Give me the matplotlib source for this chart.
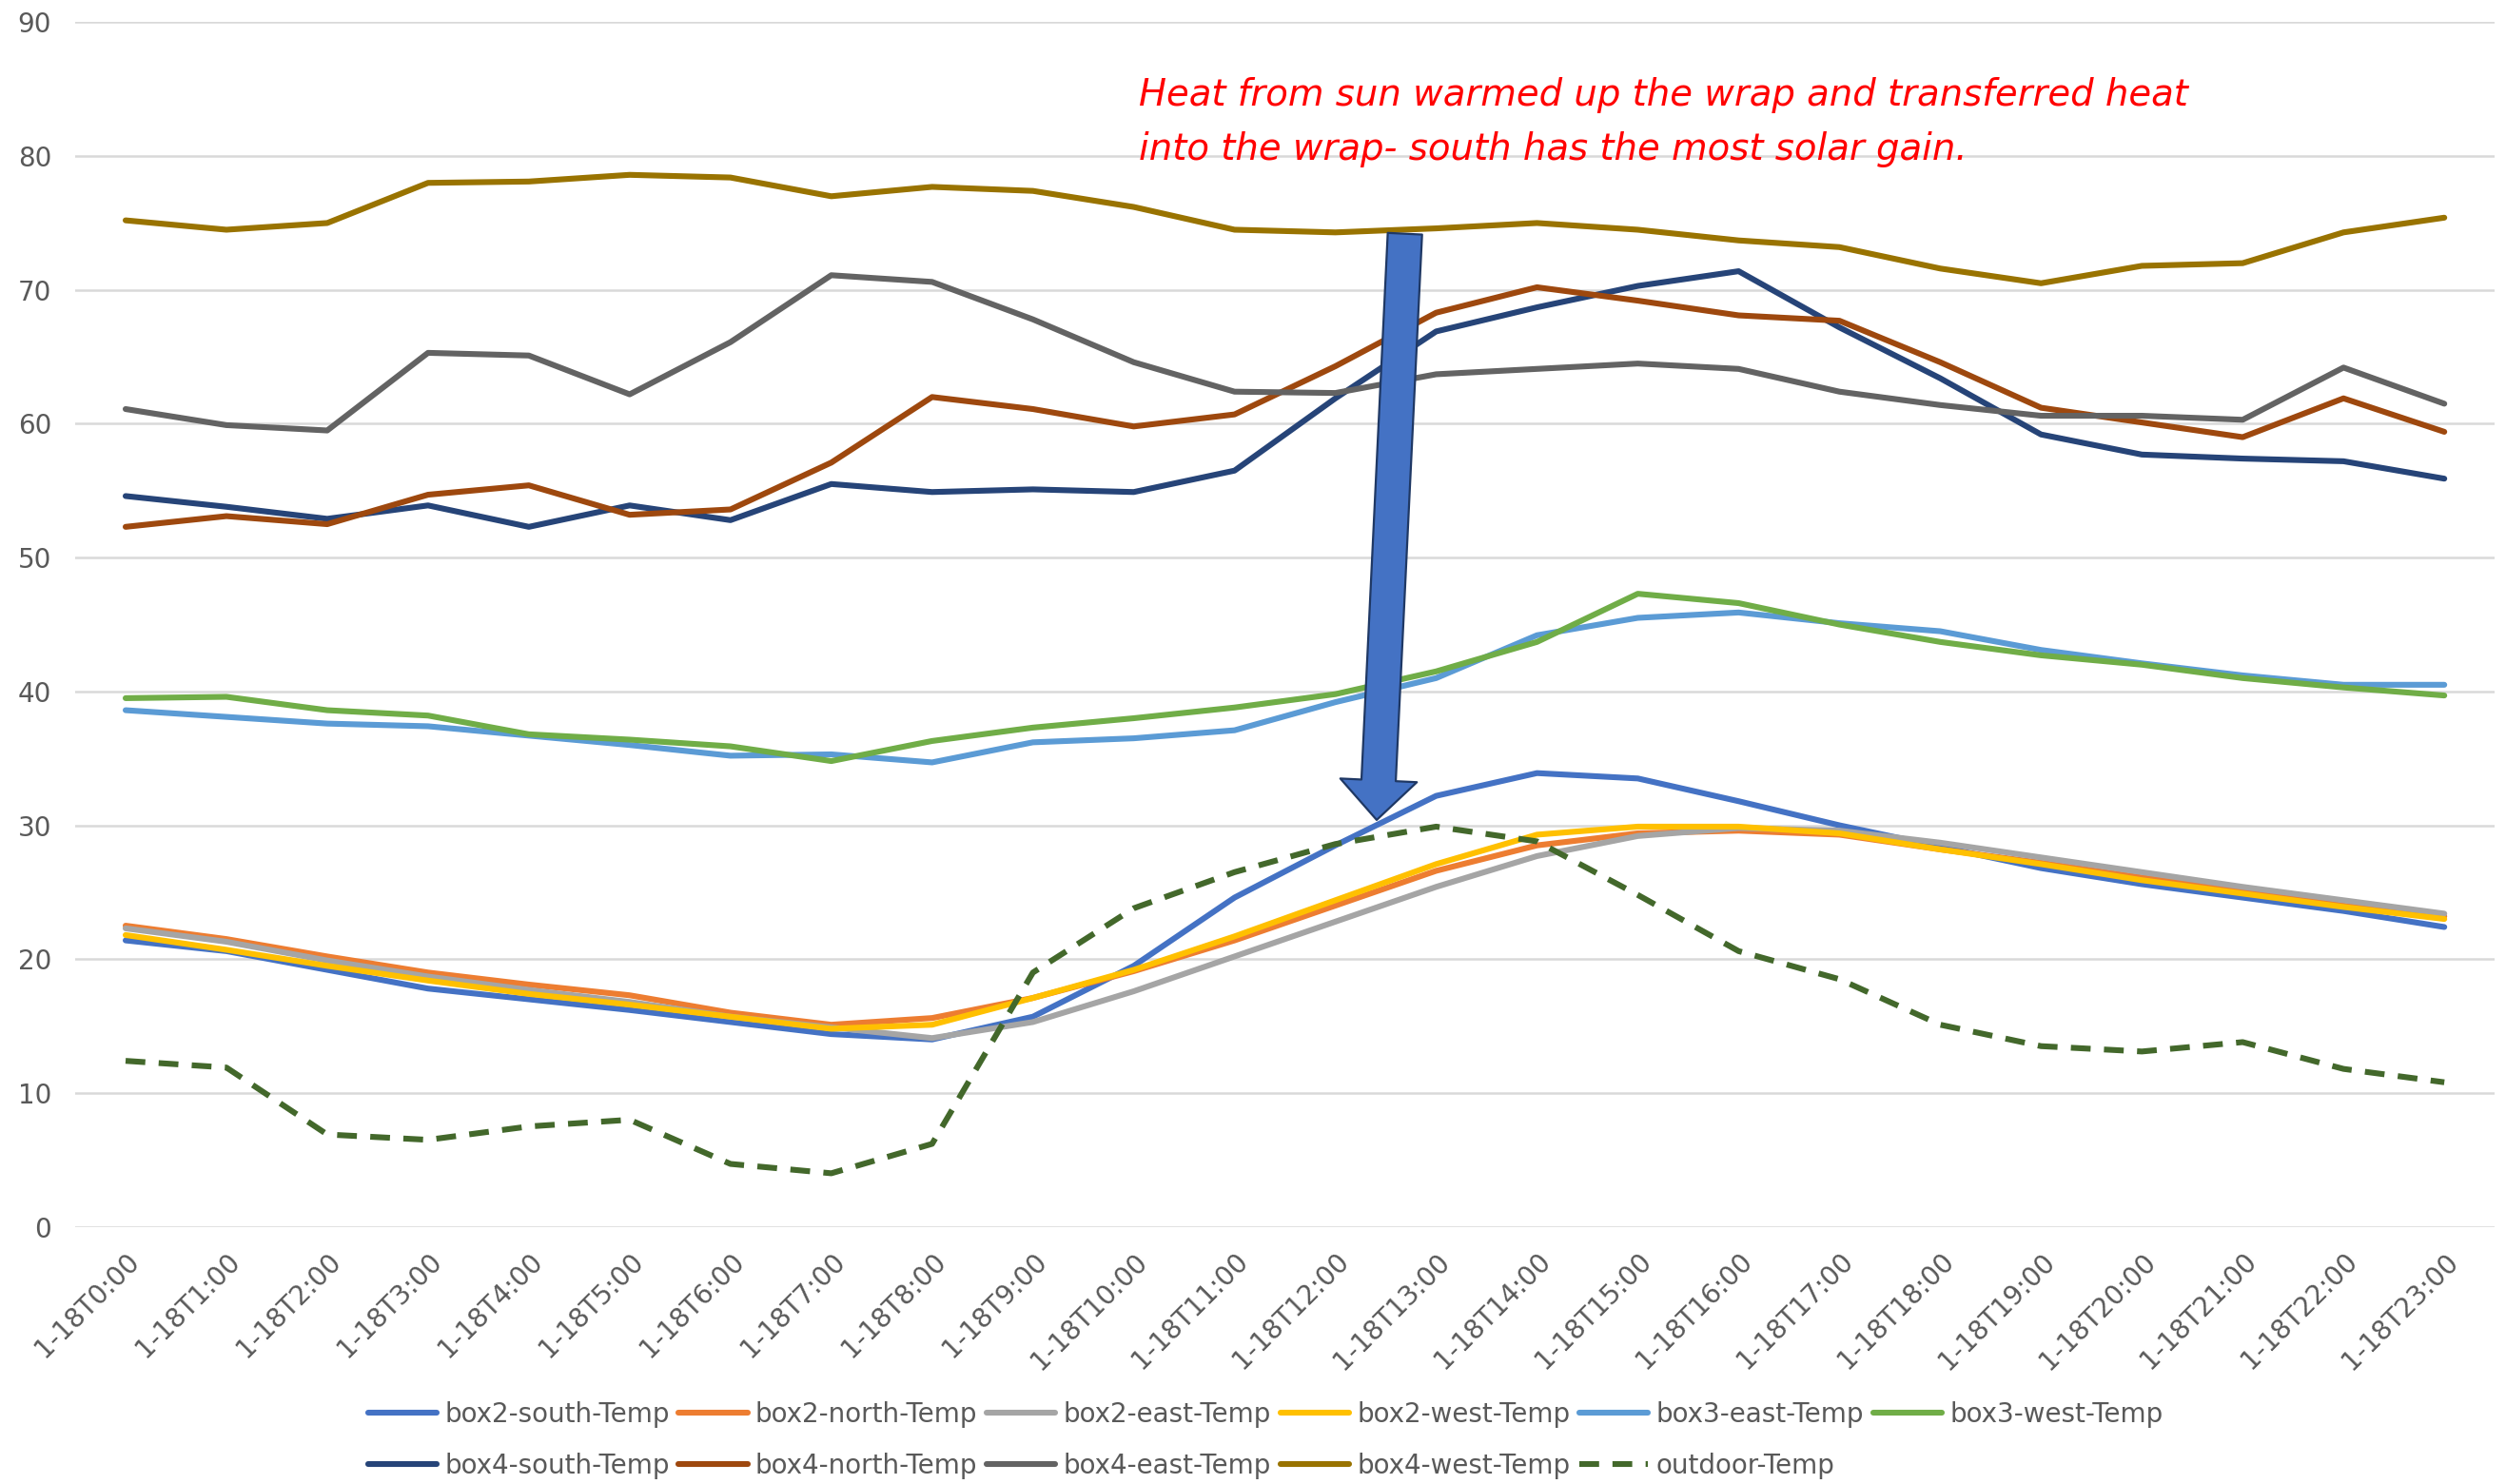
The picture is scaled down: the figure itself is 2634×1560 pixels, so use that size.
import matplotlib.pyplot as plt

# hourly readings, 1-18
hours = ['1-18T0:00', '1-18T1:00', '1-18T2:00', '1-18T3:00', '1-18T4:00', '1-18T5:00',
         '1-18T6:00', '1-18T7:00', '1-18T8:00', '1-18T9:00', '1-18T10:00', '1-18T11:00',
         '1-18T12:00', '1-18T13:00', '1-18T14:00', '1-18T15:00', '1-18T16:00', '1-18T17:00',
         '1-18T18:00', '1-18T19:00', '1-18T20:00', '1-18T21:00', '1-18T22:00', '1-18T23:00']

box2_south = [21.4, 20.6, 19.2, 17.8, 17.0, 16.2, 15.3, 14.4, 14.0, 15.7, 19.5, 24.6,
              28.5, 32.2, 33.9, 33.5, 31.8, 30.0, 28.4, 26.8, 25.6, 24.6, 23.6, 22.4]
box2_north = [22.5, 21.5, 20.2, 19.0, 18.1, 17.3, 16.0, 15.1, 15.6, 17.1, 19.1, 21.4,
              24.0, 26.6, 28.5, 29.4, 29.6, 29.3, 28.2, 27.2, 26.1, 25.1, 24.0, 23.2]
box2_east = [22.3, 21.3, 19.9, 18.7, 17.7, 16.8, 15.7, 14.9, 14.1, 15.3, 17.6, 20.2,
             22.8, 25.4, 27.7, 29.2, 29.8, 29.6, 28.7, 27.6, 26.5, 25.4, 24.4, 23.4]
box2_west = [21.8, 20.7, 19.5, 18.4, 17.4, 16.6, 15.7, 14.8, 15.1, 17.1, 19.2, 21.7,
             24.4, 27.1, 29.3, 29.9, 29.9, 29.4, 28.2, 27.1, 25.9, 24.9, 23.9, 23.0]
box3_east = [38.6, 38.1, 37.6, 37.4, 36.7, 36.0, 35.2, 35.3, 34.7, 36.2, 36.5, 37.1,
             39.2, 41.0, 44.2, 45.5, 45.9, 45.1, 44.5, 43.1, 42.1, 41.2, 40.5, 40.5]
box3_west = [39.5, 39.6, 38.6, 38.2, 36.8, 36.4, 35.9, 34.8, 36.3, 37.3, 38.0, 38.8,
             39.8, 41.5, 43.7, 47.3, 46.6, 45.0, 43.7, 42.7, 42.0, 41.0, 40.3, 39.7]
box4_south = [54.6, 53.8, 52.9, 53.9, 52.3, 53.9, 52.8, 55.5, 54.9, 55.1, 54.9, 56.5,
              61.9, 66.9, 68.7, 70.3, 71.4, 67.2, 63.4, 59.2, 57.7, 57.4, 57.2, 55.9]
box4_north = [52.3, 53.1, 52.5, 54.7, 55.4, 53.2, 53.6, 57.1, 62.0, 61.1, 59.8, 60.7,
              64.3, 68.3, 70.2, 69.2, 68.1, 67.7, 64.6, 61.2, 60.1, 59.0, 61.9, 59.4]
box4_east = [61.1, 59.9, 59.5, 65.3, 65.1, 62.2, 66.1, 71.1, 70.6, 67.8, 64.6, 62.4,
             62.3, 63.7, 64.1, 64.5, 64.1, 62.4, 61.4, 60.6, 60.6, 60.3, 64.2, 61.5]
box4_west = [75.2, 74.5, 75.0, 78.0, 78.1, 78.6, 78.4, 77.0, 77.7, 77.4, 76.2, 74.5,
             74.3, 74.6, 75.0, 74.5, 73.7, 73.2, 71.6, 70.5, 71.8, 72.0, 74.3, 75.4]
outdoor = [12.4, 11.9, 6.9, 6.5, 7.5, 8.0, 4.7, 4.0, 6.2, 19.0, 23.8, 26.5,
           28.6, 29.9, 28.8, 24.8, 20.6, 18.5, 15.1, 13.5, 13.1, 13.8, 11.8, 10.8]

series = [
    ('box2-south-Temp', box2_south, '#4472C4', '-'),
    ('box2-north-Temp', box2_north, '#ED7D31', '-'),
    ('box2-east-Temp', box2_east, '#A5A5A5', '-'),
    ('box2-west-Temp', box2_west, '#FFC000', '-'),
    ('box3-east-Temp', box3_east, '#5B9BD5', '-'),
    ('box3-west-Temp', box3_west, '#70AD47', '-'),
    ('box4-south-Temp', box4_south, '#264478', '-'),
    ('box4-north-Temp', box4_north, '#9E480E', '-'),
    ('box4-east-Temp', box4_east, '#636363', '-'),
    ('box4-west-Temp', box4_west, '#997300', '-'),
    ('outdoor-Temp', outdoor, '#43682B', (0, (3.4, 2.3))),
]

note = 'Heat from sun warmed up the wrap and transferred heat\ninto the wrap- south has the most solar gain.'

plt.rcParams['font.family'] = ['DejaVu Sans']
fig = plt.figure(figsize=(13.17, 7.8), dpi=200)
ax = fig.add_axes([0.030, 0.1733, 0.9655, 0.8117])

x = list(range(len(hours)))
lines = {}
for name, vals, color, ls in series:
    lines[name], = ax.plot(x, vals, color=color, lw=2.2, linestyle=ls, label=name,
                           solid_capstyle='round', solid_joinstyle='round')

ax.set_xlim(-0.5, len(hours) - 0.5)
ax.set_ylim(0, 90)
ax.set_yticks(range(0, 91, 10))
ax.set_xticks(x)
ax.set_xticklabels(hours, rotation=45, ha='right', va='top', rotation_mode='anchor')
ax.tick_params(axis='both', length=0, labelsize=10, labelcolor='#595959')
ax.tick_params(axis='y', pad=9)
ax.tick_params(axis='x', pad=8)
ax.grid(axis='y', color='#D9D9D9', lw=0.9)
ax.set_axisbelow(True)
for s in ax.spines.values():
    s.set_visible(False)

# annotation and arrow
ax.text(10.05, 85.9, note, color='red', fontsize=13.9, style='italic',
        ha='left', va='top', linespacing=1.62)
ax.annotate('', xy=(12.41, 30.4), xytext=(12.69, 74.2),
            arrowprops=dict(arrowstyle='simple,head_length=1.5,head_width=2.9,tail_width=1.3',
                            fc='#4472C4', ec='#1F3864', lw=0.8, mutation_scale=10,
                            shrinkA=0, shrinkB=0))

# legend: two rows, row-wise order like the original
order = ['box2-south-Temp', 'box4-south-Temp', 'box2-north-Temp', 'box4-north-Temp',
         'box2-east-Temp', 'box4-east-Temp', 'box2-west-Temp', 'box4-west-Temp',
         'box3-east-Temp', 'outdoor-Temp', 'box3-west-Temp']
leg = fig.legend([lines[n] for n in order], order, ncol=6, loc='center',
                 bbox_to_anchor=(0.505, 0.0296), frameon=False, fontsize=10,
                 handlelength=2.6, handletextpad=0.3, columnspacing=0.35, labelspacing=0.95)
for t in leg.get_texts():
    t.set_color('#595959')

fig.savefig('out.png', dpi=200, facecolor='white')
